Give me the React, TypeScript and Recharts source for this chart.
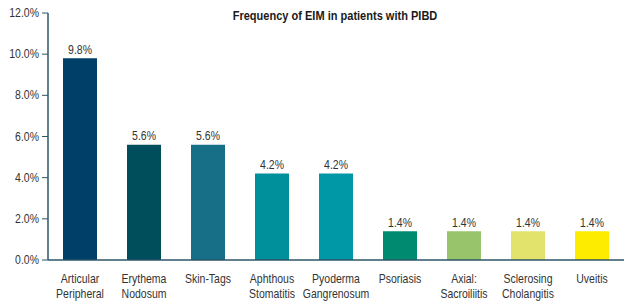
import { BarChart, Bar, XAxis, YAxis, Cell, LabelList } from "recharts";

const categories = [
  "Articular\nPeripheral",
  "Erythema\nNodosum",
  "Skin-Tags",
  "Aphthous\nStomatitis",
  "Pyoderma\nGangrenosum",
  "Psoriasis",
  "Axial:\nSacroiliitis",
  "Sclerosing\nCholangitis",
  "Uveitis",
];
const frequency = [9.8, 5.6, 5.6, 4.2, 4.2, 1.4, 1.4, 1.4, 1.4];
const barColors = [
  "#003f68",
  "#004d5c",
  "#176f87",
  "#00909c",
  "#0097a6",
  "#008b70",
  "#98c46b",
  "#e1e36c",
  "#fdec00",
];
const yTicks = [0, 2, 4, 6, 8, 10, 12];

const data = categories.map((name, i) => ({ name, value: frequency[i] }));

const FONT = "'Liberation Sans', Arial, sans-serif";
const AXIS = "#2d5566";
const SQUEEZE = 0.84;

// the source uses a condensed face, so squeeze the regular one sideways
function Narrow({ x, y, anchor = "middle", size = 12.5, weight = "normal", children }: any) {
  return (
    <g transform={`translate(${x},${y}) scale(${SQUEEZE},1)`}>
      <text x={0} y={0} textAnchor={anchor} fontSize={size} fontWeight={weight} fill="#333" fontFamily={FONT}>
        {children}
      </text>
    </g>
  );
}

function CategoryTick({ x, y, payload }: any) {
  const lines = String(payload.value).split("\n");
  return (
    <g>
      {lines.map((line, i) => (
        <Narrow key={i} x={x} y={y + 15 + i * 15}>
          {line}
        </Narrow>
      ))}
    </g>
  );
}

function ValueTick({ x, y, payload }: any) {
  return (
    <Narrow x={x} y={y + 4} anchor="end">
      {`${Number(payload.value).toFixed(1)}%`}
    </Narrow>
  );
}

function BarLabel({ x, y, width, value }: any) {
  return (
    <Narrow x={x + width / 2} y={y - 4.5}>
      {`${Number(value).toFixed(1)}%`}
    </Narrow>
  );
}

export default function App() {
  return (
    <div style={{ position: "absolute", left: 0, top: 0, background: "#fff" }}>
      <BarChart
        width={633}
        height={303}
        data={data}
        margin={{ top: 13, right: 9, left: 0, bottom: 0 }}
        barSize={34}
      >
        <g transform="translate(335,20) scale(0.92,1)">
          <text x={0} y={0} textAnchor="middle" fontSize={12} fontWeight="bold" fill="#1a1a1a" fontFamily={FONT}>
            Frequency of EIM in patients with PIBD
          </text>
        </g>
        <XAxis
          dataKey="name"
          interval={0}
          height={43}
          tick={<CategoryTick />}
          tickLine={false}
          axisLine={{ stroke: AXIS, strokeWidth: 1.5 }}
        />
        <YAxis
          width={48}
          domain={[0, 12]}
          ticks={yTicks}
          tick={<ValueTick />}
          tickSize={6}
          tickMargin={3}
          tickLine={{ stroke: AXIS }}
          axisLine={{ stroke: AXIS, strokeWidth: 1.5 }}
        />
        <Bar dataKey="value" isAnimationActive={false}>
          {data.map((_, i) => (
            <Cell key={i} fill={barColors[i]} />
          ))}
          <LabelList dataKey="value" content={<BarLabel />} />
        </Bar>
      </BarChart>
    </div>
  );
}
